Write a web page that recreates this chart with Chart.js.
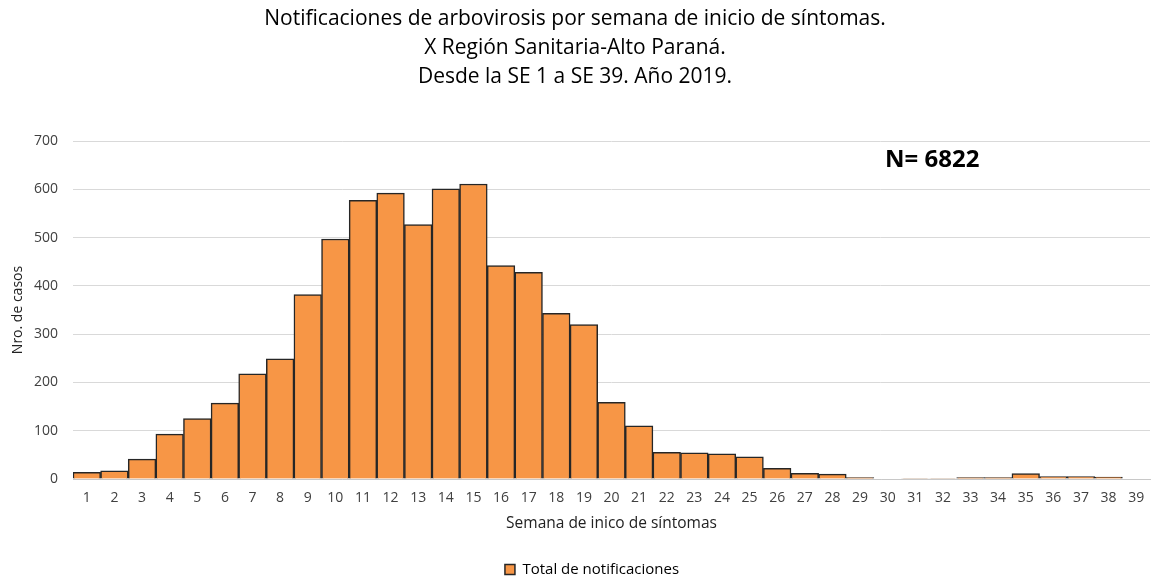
<!DOCTYPE html>
<html>
<head>
<meta charset="utf-8">
<script src="https://cdn.jsdelivr.net/npm/chart.js@4.4.1/dist/chart.umd.min.js"></script>
<style>
html,body{margin:0;padding:0;background:#fff;}
#wrap{width:1151px;height:577px;position:relative;}
</style>
</head>
<body>
<div id="wrap"><canvas id="c" width="1151" height="577"></canvas></div>
<script>
const weeks = ["1","2","3","4","5","6","7","8","9","10","11","12","13","14","15","16","17","18","19","20","21","22","23","24","25","26","27","28","29","30","31","32","33","34","35","36","37","38","39"];
const totalNotificaciones = [14,17,41,93,125,157,218,249,382,497,577,592,527,601,611,442,428,343,320,159,110,55,54,52,46,22,12,10,3,0,1,1,3,3,11,5,5,4,0];
const titleLines = ["Notificaciones de arbovirosis por semana de inicio de síntomas.","X Región Sanitaria-Alto Paraná.","Desde la SE 1 a SE 39. Año 2019."];
const seriesName = "Total de notificaciones";
const xTitle = "Semana de inico de síntomas";
const yTitle = "Nro. de casos";
const annotationText = "N= 6822";

const FONT = "'Open Sans', 'Noto Sans', sans-serif";

const annotationPlugin = {
  id: 'nLabel',
  afterLayout(chart) {
    const lg = chart.legend;
    if (lg) { lg.left += 17; lg.right += 17; }
  },
  afterDraw(chart) {
    const ctx = chart.ctx;
    const y = chart.scales.y;
    ctx.save();
    ctx.font = "bold 24px " + FONT;
    ctx.fillStyle = "#000";
    ctx.textAlign = "left";
    ctx.textBaseline = "middle";
    ctx.fillText(annotationText, 885, y.getPixelForValue(660));
    ctx.restore();
  }
};

new Chart(document.getElementById('c'), {
  type: 'bar',
  data: {
    labels: weeks,
    datasets: [{
      label: seriesName,
      data: totalNotificaciones,
      backgroundColor: '#F79646',
      borderColor: '#262626',
      borderWidth: 1.5,
      categoryPercentage: 1.0,
      barPercentage: 1.0
    }]
  },
  options: {
    responsive: false,
    animation: false,
    layout: { padding: { left: 0, right: 1, top: 5, bottom: -10 } },
    plugins: {
      title: {
        display: true,
        text: titleLines,
        color: '#000',
        font: { family: FONT, size: 21, weight: 'normal', lineHeight: 1.381 },
        padding: { top: 0, bottom: 49 }
      },
      legend: {
        display: true,
        position: 'bottom',
        labels: {
          color: '#222',
          font: { family: FONT, size: 15 },
          boxWidth: 10,
          boxHeight: 10,
          padding: 4,
          generateLabels(chart) {
            return [{
              text: seriesName,
              fillStyle: '#F79646',
              strokeStyle: '#262626',
              lineWidth: 1.5,
              datasetIndex: 0
            }];
          }
        }
      },
      tooltip: { enabled: false }
    },
    scales: {
      x: {
        afterFit(scale) { scale.height = 79; scale.paddingLeft = 0; scale.paddingRight = 0; },
        grid: { display: false, drawTicks: false },
        border: { display: true, color: '#c8c8c8', width: 1 },
        ticks: { color: '#404040', font: { family: FONT, size: 14 }, autoSkip: false, maxRotation: 0, padding: 11 },
        title: { display: true, text: xTitle, color: '#222', font: { family: FONT, size: 15.5 }, padding: { top: 0, bottom: 25 } }
      },
      y: {
        afterFit(scale) { scale.width = 73; },
        min: 0,
        max: 700,
        grid: { color: '#d9d9d9', lineWidth: 1, drawTicks: false },
        border: { display: false },
        ticks: { stepSize: 100, color: '#404040', font: { family: FONT, size: 14 }, padding: 15 },
        title: { display: true, text: yTitle, color: '#222', font: { family: FONT, size: 14 }, padding: { top: 10, bottom: 5 } }
      }
    }
  },
  plugins: [annotationPlugin]
});
</script>
</body>
</html>
